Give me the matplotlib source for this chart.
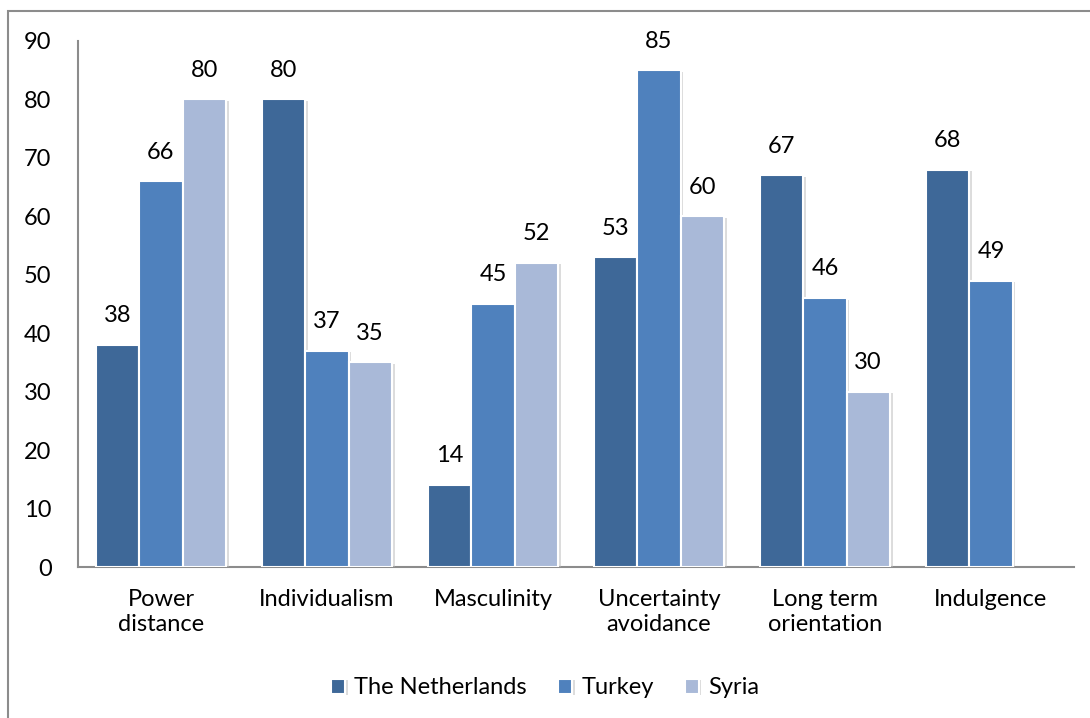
import numpy as np
import matplotlib.pyplot as plt
import matplotlib.patheffects as pe
from matplotlib.patches import Rectangle

plt.rcParams['font.family'] = ['Lato', 'DejaVu Sans']

categories = ['Power\ndistance', 'Individualism', 'Masculinity',
              'Uncertainty\navoidance', 'Long term\norientation', 'Indulgence']
netherlands = [38, 80, 14, 53, 67, 68]
turkey = [66, 37, 45, 85, 46, 49]
syria = [80, 35, 52, 60, 30, None]

series = [('The Netherlands', netherlands, '#3E6898'),
          ('Turkey', turkey, '#4F81BD'),
          ('Syria', syria, '#A9B9D8')]

FS = 17

fig = plt.figure(figsize=(10.9, 7.18), dpi=100)
ax = fig.add_axes([78 / 1090, 1 - 567 / 718, (1074 - 78) / 1090, (567 - 41) / 718])

# outer chart frame
fig.patches.append(Rectangle((8 / 1090, -0.05), 1.1, (718 - 11) / 718 + 0.05,
                             transform=fig.transFigure, fill=False,
                             edgecolor='#8c8c8c', linewidth=1.5))

x = np.arange(len(categories))
width = 0.26
shadow = [pe.SimplePatchShadow(offset=(2, -1), shadow_rgbFace='#bbbbbb', alpha=0.5),
          pe.Normal()]

for i, (name, vals, color) in enumerate(series):
    pos = [xx + (i - 1) * width for xx, v in zip(x, vals) if v is not None]
    hts = [v for v in vals if v is not None]
    bars = ax.bar(pos, hts, width, color=color, edgecolor='white',
                  linewidth=1.5, label=name, zorder=3)
    for b in bars:
        b.set_path_effects(shadow)
    for p, h in zip(pos, hts):
        ax.text(p, h + 3.2, str(h), ha='center', va='bottom', fontsize=FS)

ax.set_xlim(-0.5, len(categories) - 0.5)
ax.set_ylim(0, 90)
ax.set_yticks(range(0, 91, 10))
ax.set_xticks(x)
ax.set_xticklabels(categories, fontsize=FS, linespacing=1.2)
ax.tick_params(axis='y', labelsize=FS, length=0, pad=19)
ax.tick_params(axis='x', length=0, pad=16)

for s in ['top', 'right']:
    ax.spines[s].set_visible(False)
ax.spines['left'].set_color('#8c8c8c')
ax.spines['bottom'].set_color('#8c8c8c')
ax.spines['left'].set_linewidth(1.5)
ax.spines['bottom'].set_linewidth(1.5)

fig.legend(loc='center', bbox_to_anchor=(0.5, 1 - 688 / 718), ncol=3,
           frameon=False, fontsize=FS, handlelength=0.6, handleheight=0.6,
           handletextpad=0.4, columnspacing=1.3)

fig.savefig('out.png', dpi=100)
